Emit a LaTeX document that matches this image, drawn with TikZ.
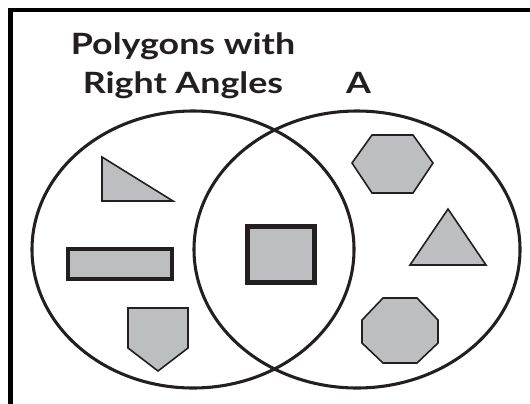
\documentclass[tikz,border=0pt]{standalone}
\usepackage{fontspec}
\setsansfont{Lato}[FakeStretch=1.22]
\usepackage{tikz}
\usetikzlibrary{positioning}
\definecolor{shapegray}{HTML}{BDBEC0}
\definecolor{inkblack}{HTML}{231F20}

\begin{document}
\begin{tikzpicture}[x=0.75pt, y=-0.75pt,
    every node/.style={font=\sffamily\bfseries\fontsize{22}{28.5}\selectfont, text=inkblack, inner sep=0pt},
    setline/.style={draw=inkblack, line width=2.3pt},
    thinshape/.style={fill=shapegray, draw=inkblack, line width=1.2pt, line join=miter},
    thickshape/.style={fill=shapegray, draw=inkblack, line width=3.6pt, line join=miter}]
  \useasboundingbox (0,0) rectangle (530,403);
  % frame
  \draw[line width=3.2pt, black] (10.5,405) -- (10.5,10) -- (532,10);
  % labels
  \node[anchor=base, align=center] (rightset) at (183,93) {Polygons with\\Right Angles};
  \node[anchor=base] (aset) at (358.5,93) {A};
  % the two sets
  \draw[setline] (193,249.5) ellipse [x radius=161, y radius=138.5];
  \draw[setline] (357,249.5) ellipse [x radius=163, y radius=138.5];
  % only right angles
  \draw[thinshape] (102,157) -- (102,201) -- (173,201) -- cycle;
  \draw[thickshape] (68,249) rectangle (172,279);
  \draw[thinshape] (128,308) -- (188,308) -- (188,348) -- (158,371) -- (128,348) -- cycle;
  % both
  \draw[thickshape] (247.5,226.5) rectangle (314.5,282.5);
  % only A
  \draw[thinshape] (352,163) -- (372,135) -- (413,135) -- (433,163) -- (413,193) -- (372,193) -- cycle;
  \draw[thinshape] (410,265) -- (448,209) -- (486,265) -- cycle;
  \draw[thinshape] (383,298) -- (417,298) -- (438,320) -- (438,343) -- (417,363) -- (383,363) -- (362,343) -- (362,320) -- cycle;
\end{tikzpicture}
\end{document}
